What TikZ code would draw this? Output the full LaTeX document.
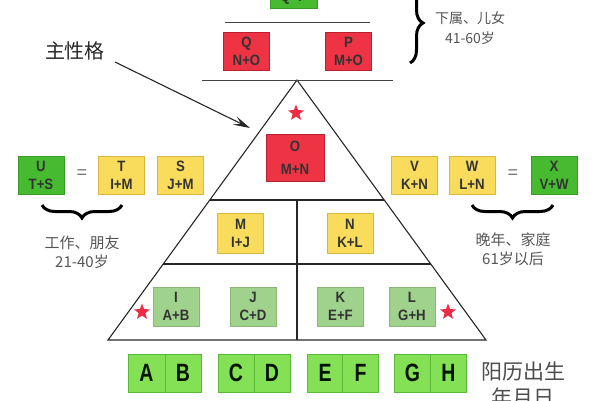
\documentclass[tikz,border=0pt]{standalone}
\usepackage{fontspec}
\setmainfont{Liberation Sans}
\newfontfamily\cjk{Noto Sans CJK SC}
\newfontfamily\boxfont[FakeStretch=0.88]{Liberation Sans}
\newfontfamily\bigfont[FakeStretch=0.78]{Liberation Sans}
\usetikzlibrary{shapes.geometric,arrows.meta,decorations.pathreplacing,calc}
\definecolor{redfill}{HTML}{EE3344}
\definecolor{redline}{HTML}{B82230}
\definecolor{yelfill}{HTML}{F9DC5C}
\definecolor{yelline}{HTML}{D8B840}
\definecolor{grnfill}{HTML}{46BB30}
\definecolor{grnline}{HTML}{3A9A28}
\definecolor{olvfill}{HTML}{9FD28C}
\definecolor{olvline}{HTML}{86B874}
\definecolor{brtfill}{HTML}{84E055}
\definecolor{brtline}{HTML}{5CB83A}
\definecolor{starred}{HTML}{EE2B45}
\definecolor{txtgray}{HTML}{555555}
\definecolor{linegray}{HTML}{444444}
\begin{document}
\begin{tikzpicture}[x=1pt,y=-1pt,
  box/.style={draw, line width=0.6pt, minimum width=46pt, minimum height=38pt, inner sep=0pt,
    align=center, font=\boxfont\bfseries\fontsize{15}{18}\selectfont, text=black!80},
  redbox/.style={box, fill=redfill, draw=redline},
  yelbox/.style={box, fill=yelfill, draw=yelline},
  grnbox/.style={box, fill=grnfill, draw=grnline},
  olvbox/.style={box, fill=olvfill, draw=olvline},
  cell/.style={draw=brtline, fill=brtfill, line width=0.6pt, minimum width=36pt, minimum height=38pt,
    inner sep=0pt, font=\bigfont\bfseries\fontsize{25}{25}\selectfont, text=black!80!green!40!black},
  redstar/.style={star, star points=5, star point ratio=2.4, fill=starred, draw=none, minimum size=17pt, inner sep=0pt},
  pyr/.style={draw=black!85, line width=1.1pt},
  sep/.style={draw=linegray, line width=1pt},
  bracestyle/.style={decorate, decoration={brace, amplitude=13pt}, line width=3pt, draw=black},
  note/.style={font=\cjk\fontsize{15}{19}\selectfont, text=txtgray, align=center},
  eqsign/.style={font=\fontsize{18}{18}\selectfont, text=black!55}
]
\useasboundingbox (0,0) rectangle (600,400);
\clip (0,0) rectangle (600,400);

% pyramid
\coordinate (apex) at (297,80);
\coordinate (bl) at (108,340);
\coordinate (br) at (486,340);
\draw[pyr] (apex) -- (bl) -- (br) -- cycle;
\coordinate (l1a) at (209.8,200);
\coordinate (l1b) at (384.2,200);
\coordinate (l2a) at (163.2,264);
\coordinate (l2b) at (430.8,264);
\coordinate (vtop) at (297,200);
\coordinate (vbot) at (297,340);
\draw[pyr] (l1a) -- (l1b);
\draw[pyr] (l2a) -- (l2b);
\draw[pyr] (vtop) -- (vbot);

% top separators
\coordinate (s1a) at (202,80);
\coordinate (s1b) at (393,80);
\coordinate (s2a) at (225,22);
\coordinate (s2b) at (370,22);
\draw[sep] (s1a) -- (s1b);
\draw[sep] (s2a) -- (s2b);

% top green box (cut off)
\node[grnbox, minimum width=47pt] (R) at (293.5,-11) {};
\node[font=\boxfont\bfseries\fontsize{15}{18}\selectfont, text=black!80] (Rtxt) at (293.5,-2) {Q+P};

% red boxes
\node[redbox] (Q) at (246.5,51.5) {Q\\N+O};
\node[redbox] (P) at (348.5,51.5) {P\\M+O};
\node[redbox, minimum width=58pt, minimum height=47pt, font=\boxfont\bfseries\fontsize{15}{23}\selectfont] (O) at (295,157.5) {O\\M+N};

% yellow boxes
\node[yelbox] (S) at (180.5,175) {S\\J+M};
\node[yelbox] (V) at (414.5,175) {V\\K+N};
\node[yelbox] (T) at (121.5,175.5) {T\\I+M};
\node[yelbox] (W) at (472,175.5) {W\\L+N};
\node[yelbox, minimum height=40pt] (M) at (240.5,233) {M\\I+J};
\node[yelbox, minimum height=40pt] (N) at (350,233) {N\\K+L};

% green boxes
\node[grnbox] (U) at (41,175.5) {U\\T+S};
\node[grnbox] (X) at (554,175.5) {X\\V+W};

% equals
\node[eqsign] (eq1) at (82,174) {=};
\node[eqsign] (eq2) at (513,174) {=};

% olive boxes
\node[olvbox, minimum height=39pt] (I) at (176,306.5) {I\\A+B};
\node[olvbox, minimum height=39pt] (J) at (253,306.5) {J\\C+D};
\node[olvbox, minimum height=39pt] (K) at (340.5,306.5) {K\\E+F};
\node[olvbox, minimum height=39pt] (L) at (412,306.5) {L\\G+H};

% stars
\node[redstar] (st1) at (296,113) {};
\node[redstar] (st2) at (142,312) {};
\node[redstar] (st3) at (448,312) {};

% bottom cells
\node[cell, minimum width=37pt] (A) at (146.5,373) {A};
\node[cell] (B) at (183,373) {B};
\node[cell] (C) at (236,373) {C};
\node[cell] (D) at (272,373) {D};
\node[cell] (E) at (325,373) {E};
\node[cell] (F) at (360.5,373) {F};
\node[cell] (G) at (412.5,373) {G};
\node[cell] (H) at (448.5,373) {H};

% braces
\coordinate (b1a) at (122,205);
\coordinate (b1b) at (42,205);
\coordinate (b2a) at (553,205);
\coordinate (b2b) at (472,205);
\coordinate (b3a) at (410,-17);
\coordinate (b3b) at (410,63);
\draw[bracestyle] (b1a) -- (b1b);
\draw[bracestyle] (b2a) -- (b2b);
\draw[bracestyle] (b3a) -- (b3b);

% notes
\node[note] (n1) at (82,252) {工作、朋友\\21-40岁};
\node[note] (n2) at (513,249) {晚年、家庭\\61岁以后};
\node[note, font=\cjk\fontsize{14}{20}\selectfont] (n3) at (470,28) {下属、儿女\\41-60岁};
\node[note, font=\cjk\fontsize{21}{26}\selectfont, text=black!70] (n4) at (523,385) {阳历出生\\年月日};

% main character arrow
\node[font=\cjk\fontsize{20}{24}\selectfont, text=black!85] (zhu) at (75,51) {主性格};
\coordinate (arrstart) at (115,62);
\coordinate (tip) at (250,128);
\draw[line width=1.1pt, black!85, -{Stealth[length=17pt, width=9pt, inset=7pt]}] (arrstart) -- (tip);
\end{tikzpicture}
\end{document}
